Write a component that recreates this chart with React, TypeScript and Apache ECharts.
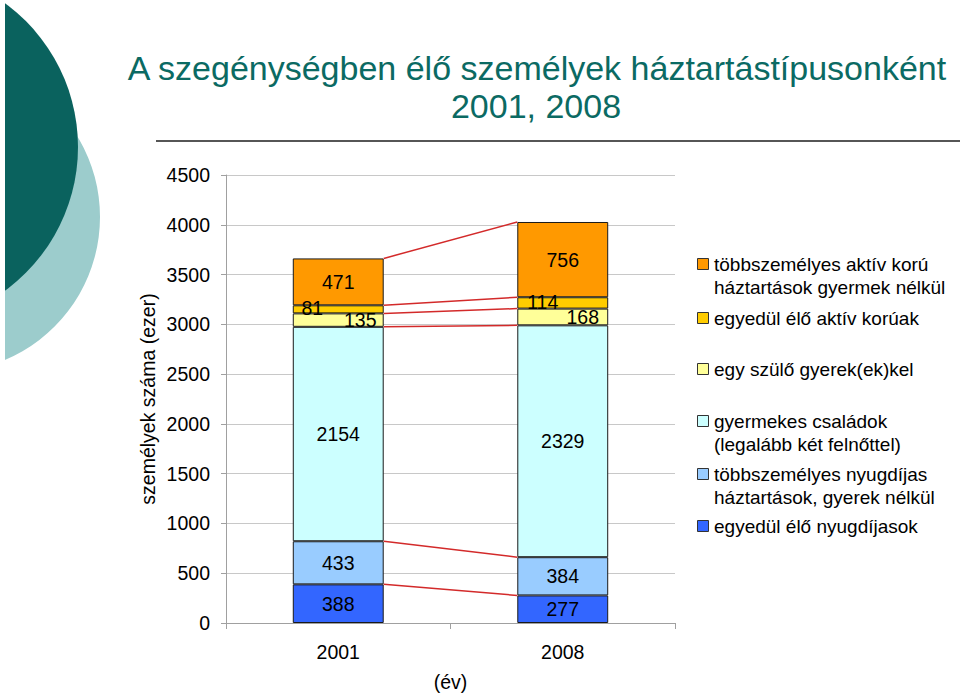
import React, { useEffect, useRef } from "react";
import * as echarts from "echarts";

const categories = ["2001", "2008"];
const yTicks = [0, 500, 1000, 1500, 2000, 2500, 3000, 3500, 4000, 4500];

// bottom-up stack order
const egyedulNyugdijasok = [388, 277];
const tobbszemelyesNyugdijas = [433, 384];
const gyermekesCsaladok = [2154, 2329];
const egySzulo = [135, 168];
const egyedulAktiv = [81, 114];
const tobbszemelyesAktiv = [471, 756];

const seriesNames = [
  "egyedül élő nyugdíjasok",
  "többszemélyes nyugdíjas háztartások, gyerek nélkül",
  "gyermekes családok (legalább két felnőttel)",
  "egy szülő gyerek(ek)kel",
  "egyedül élő aktív korúak",
  "többszemélyes aktív korú háztartások gyermek nélkül",
];
const seriesValues = [
  egyedulNyugdijasok,
  tobbszemelyesNyugdijas,
  gyermekesCsaladok,
  egySzulo,
  egyedulAktiv,
  tobbszemelyesAktiv,
];
const seriesColors = ["#3366FF", "#99CCFF", "#CCFFFF", "#FFFF99", "#FFCC00", "#FF9900"];
// label offsets per series per category
const labelOffsets = [
  [[0, 0], [0, 0]],
  [[0, 0], [0, 0]],
  [[0, 0], [0, 0]],
  [[22, 0], [20, 0]],
  [[-26, -1], [-20, -1]],
  [[0, 0], [0, 0]],
];

// legend (top to bottom), lines
const legendItems = [
  { color: "#FF9900", lines: ["többszemélyes aktív korú", "háztartások gyermek nélkül"], y: 264 },
  { color: "#FFCC00", lines: ["egyedül élő aktív korúak"], y: 318 },
  { color: "#FFFF99", lines: ["egy szülő gyerek(ek)kel"], y: 369 },
  { color: "#CCFFFF", lines: ["gyermekes családok", "(legalább két felnőttel)"], y: 421 },
  { color: "#99CCFF", lines: ["többszemélyes nyugdíjas", "háztartások, gyerek nélkül"], y: 474 },
  { color: "#3366FF", lines: ["egyedül élő nyugdíjasok"], y: 526 },
];

const FONT = "Liberation Sans, Arial, sans-serif";
const BAR_FRAC = 0.405;
const FS = 19.5;

export default function App() {
  const ref = useRef<HTMLDivElement>(null);
  useEffect(() => {
    document.body.style.margin = "0";
    const chart = echarts.init(ref.current!, null, { renderer: "svg" });

    // cumulative boundaries for connector lines
    const connectorData: number[][] = [];
    const cum = [0, 0];
    seriesValues.forEach((vals) => {
      cum[0] += vals[0];
      cum[1] += vals[1];
      connectorData.push([0, cum[0], cum[1]]);
    });

    const barSeries = seriesValues.map((vals, si) => ({
      type: "bar",
      name: seriesNames[si],
      stack: "total",
      barWidth: BAR_FRAC * 100 + "%",
      itemStyle: { color: seriesColors[si], borderColor: "#1a1a1a", borderWidth: 1 },
      label: {
        show: true,
        position: "inside",
        color: "#000",
        fontSize: FS,
        fontFamily: FONT,
      },
      data: vals.map((v, ci) => ({
        value: v,
        label: { offset: labelOffsets[si][ci] },
      })),
      z: 3,
    }));

    const graphics: any[] = [
      { type: "circle", shape: { cx: -55, cy: 217, r: 155 }, style: { fill: "#9ccccc" }, z: 1 },
      { type: "circle", shape: { cx: -100, cy: 147, r: 178 }, style: { fill: "#0a625e" }, z: 2 },
      { type: "rect", shape: { x: 0, y: 0, width: 5, height: 697 }, style: { fill: "#fff" }, z: 3 },
      {
        type: "text",
        x: 537,
        y: 68,
        style: {
          text: "A szegénységben élő személyek háztartástípusonként",
          fill: "#0b6a63",
          fontSize: 34,
          fontFamily: FONT,
          align: "center",
          verticalAlign: "middle",
        },
      },
      {
        type: "text",
        x: 536,
        y: 106,
        style: {
          text: "2001, 2008",
          fill: "#0b6a63",
          fontSize: 34,
          fontFamily: FONT,
          align: "center",
          verticalAlign: "middle",
        },
      },
      {
        type: "line",
        shape: { x1: 156, y1: 141, x2: 960, y2: 141 },
        style: { stroke: "#1e1e1e", lineWidth: 1.5 },
      },
    ];
    legendItems.forEach((it) => {
      graphics.push({
        type: "rect",
        shape: { x: 697.5, y: it.y - 5.5, width: 11, height: 11 },
        style: { fill: it.color, stroke: "#333", lineWidth: 1 },
      });
      it.lines.forEach((ln, li) => {
        graphics.push({
          type: "text",
          x: 714,
          y: it.y + li * 23,
          style: {
            text: ln,
            fill: "#000",
            fontSize: 19,
            fontFamily: FONT,
            align: "left",
            verticalAlign: "middle",
          },
        });
      });
    });

    chart.setOption({
      animation: false,
      backgroundColor: "#fff",
      textStyle: { fontFamily: FONT },
      grid: { left: 226, right: 285, top: 175, bottom: 72, containLabel: false },
      xAxis: {
        type: "category",
        data: categories,
        name: "(év)",
        nameLocation: "middle",
        nameGap: 49,
        nameTextStyle: { fontSize: FS, color: "#000", fontFamily: FONT },
        axisLine: { lineStyle: { color: "#a0a0a0", width: 1 } },
        axisTick: { show: true, length: 6, lineStyle: { color: "#a0a0a0" } },
        axisLabel: { margin: 19, fontSize: FS, color: "#000", fontFamily: FONT },
      },
      yAxis: {
        type: "value",
        min: yTicks[0],
        max: yTicks[yTicks.length - 1],
        interval: 500,
        name: "személyek száma (ezer)",
        nameLocation: "middle",
        nameGap: 68,
        nameTextStyle: { fontSize: FS, color: "#000", fontFamily: FONT },
        axisLine: { show: true, lineStyle: { color: "#a0a0a0", width: 1 } },
        axisTick: { show: true, length: 5, lineStyle: { color: "#a0a0a0" } },
        axisLabel: {
          margin: 16,
          fontSize: FS,
          color: "#000",
          fontFamily: FONT,
          formatter: (v: number) => String(v),
        },
        splitLine: { show: true, lineStyle: { color: "#c8c8c8", width: 1 } },
      },
      graphic: graphics,
      series: [
        ...barSeries,
        {
          type: "custom",
          name: "connectors",
          encode: { x: 0, y: 1 },
          renderItem: (params: any, api: any) => {
            const v0 = api.value(1);
            const v1 = api.value(2);
            const p0 = api.coord([0, v0]);
            const p1 = api.coord([1, v1]);
            const half = (api.size([1, 0])[0] * BAR_FRAC) / 2;
            return {
              type: "line",
              shape: { x1: p0[0] + half, y1: p0[1], x2: p1[0] - half, y2: p1[1] },
              style: { stroke: "#d32a2a", lineWidth: 1.5 },
            };
          },
          data: connectorData,
          z: 4,
        },
      ],
    });
    return () => chart.dispose();
  }, []);
  return (
    <div
      ref={ref}
      style={{ position: "absolute", left: 0, top: 0, width: 960, height: 697 }}
    />
  );
}
